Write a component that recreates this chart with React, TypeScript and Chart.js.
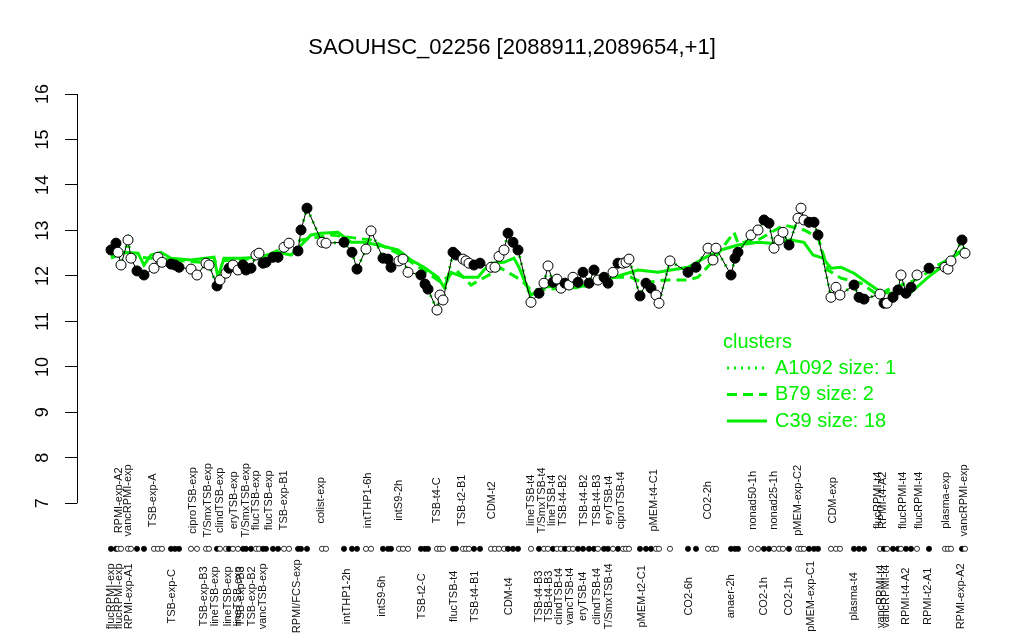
import React, { useEffect, useRef } from 'react';
import { Chart, registerables } from 'chart.js';

Chart.register(...registerables);

const TITLE = 'SAOUHSC_02256 [2088911,2089654,+1]';
const GREEN = '#00ee00';
const FONT = '"Liberation Sans", Arial, Helvetica, sans-serif';

// y axis tick values
const yTicks = [7, 8, 9, 10, 11, 12, 13, 14, 15, 16];

// sample positions along the condition axis
const samplePos = [
  0, 5, 7, 10, 17, 20, 26, 33, 43, 47,
  51, 60, 64, 68, 80, 86, 95, 98, 106, 109,
  115, 118, 122, 127, 132, 135, 140, 145, 148, 152,
  155, 162, 167, 173, 178, 187, 190, 196, 211, 215,
  233, 241, 246, 255, 260, 272, 277, 280, 288, 292,
  297, 310, 314, 317, 326, 329, 332, 342, 345, 352,
  355, 358, 363, 369, 380, 384, 388, 393, 397, 402,
  407, 420, 428, 433, 437, 442, 446, 450, 454, 458,
  462, 467, 472, 478, 483, 487, 493, 497, 502, 507,
  512, 515, 518, 529, 535, 540, 545, 548, 559, 577,
  585, 597, 602, 605, 620, 624, 627, 640, 647, 653,
  658, 663, 668, 672, 678, 687, 690, 693, 698, 703,
  707, 720, 725, 729, 743, 748, 753, 769, 773, 776,
  782, 787, 790, 795, 800, 806, 818, 834, 837, 840,
  851, 854,
];

// expression values (log2)
const sampleValue = [
  12.57, 12.72, 12.52, 12.24, 12.79, 12.39, 12.11, 12.02, 12.17, 12.41,
  12.30, 12.26, 12.24, 12.19, 12.15, 12.02, 12.28, 12.24, 11.78, 11.91,
  12.06, 12.17, 12.24, 12.13, 12.24, 12.13, 12.17, 12.46, 12.50, 12.28,
  12.30, 12.41, 12.41, 12.63, 12.72, 12.55, 13.01, 13.49, 12.74, 12.72,
  12.74, 12.52, 12.15, 12.59, 12.99, 12.39, 12.37, 12.19, 12.33, 12.37,
  12.08, 12.02, 11.82, 11.71, 11.25, 11.58, 11.47, 12.52, 12.46, 12.37,
  12.33, 12.28, 12.24, 12.28, 12.19, 12.19, 12.43, 12.57, 12.94, 12.74,
  12.57, 11.42, 11.62, 11.84, 12.22, 11.86, 11.93, 11.73, 11.84, 11.80,
  11.97, 11.86, 12.08, 11.84, 12.13, 11.91, 11.97, 11.84, 12.08, 12.28,
  12.28, 12.30, 12.37, 11.56, 11.84, 11.73, 11.58, 11.40, 12.33, 12.08,
  12.19, 12.61, 12.35, 12.61, 12.02, 12.39, 12.52, 12.90, 13.01, 13.23,
  13.16, 12.61, 12.79, 12.96, 12.68, 13.27, 13.49, 13.23, 13.18, 13.18,
  12.90, 11.53, 11.75, 11.58, 11.80, 11.53, 11.49, 11.60, 11.40, 11.40,
  11.53, 11.69, 12.02, 11.62, 11.75, 12.02, 12.17, 12.19, 12.15, 12.33,
  12.79, 12.50,
];

// 1 = filled marker, 0 = open marker
const sampleFilled = [
  1, 1, 0, 0, 0, 0, 1, 1, 0, 0,
  0, 1, 1, 1, 0, 0, 0, 0, 1, 0,
  0, 1, 0, 0, 1, 1, 1, 0, 0, 1,
  1, 1, 1, 0, 0, 1, 1, 1, 0, 0,
  1, 1, 1, 0, 0, 1, 1, 1, 0, 0,
  0, 1, 1, 1, 0, 0, 0, 1, 1, 0,
  0, 0, 1, 1, 0, 0, 0, 0, 1, 1,
  1, 0, 1, 0, 0, 1, 0, 0, 1, 0,
  0, 1, 1, 1, 1, 0, 1, 1, 0, 1,
  0, 0, 0, 1, 1, 1, 0, 0, 0, 1,
  1, 0, 0, 0, 1, 1, 1, 0, 0, 1,
  1, 0, 0, 0, 1, 0, 0, 0, 1, 1,
  1, 0, 0, 0, 1, 1, 1, 0, 1, 0,
  1, 1, 0, 1, 1, 0, 1, 0, 0, 0,
  1, 0,
];

// cluster C39 mean profile (solid)
const c39Pos = [0, 13, 27, 33, 40, 50, 60, 80, 103, 107, 113, 130, 147, 167, 180, 193, 200, 210, 227, 240, 253, 267, 287, 300, 313, 327, 333, 340, 353, 367, 373, 380, 393, 403, 408, 413, 420, 433, 453, 467, 500, 527, 547, 560, 577, 593, 610, 627, 647, 660, 680, 693, 702, 712, 720, 730, 743, 757, 770, 783, 800, 817, 833, 847, 853];
const c39Value = [12.39, 12.52, 12.50, 12.24, 12.46, 12.52, 12.39, 12.35, 12.41, 11.97, 12.39, 12.39, 12.41, 12.52, 12.46, 12.74, 12.90, 12.94, 12.96, 12.74, 12.74, 12.68, 12.57, 12.35, 12.19, 11.97, 11.75, 12.08, 11.97, 11.97, 12.13, 12.28, 12.30, 12.39, 12.19, 11.91, 11.58, 11.75, 11.80, 11.75, 11.95, 12.13, 12.08, 12.13, 12.19, 12.39, 12.57, 12.68, 12.74, 12.72, 12.79, 12.74, 12.46, 12.39, 12.17, 12.19, 12.06, 11.84, 11.64, 11.62, 11.64, 11.97, 12.24, 12.50, 12.61];

// cluster B79 mean profile (dashed)
const b79Pos = [0, 40, 90, 150, 190, 220, 260, 290, 330, 345, 360, 390, 410, 420, 470, 503, 520, 533, 553, 577, 587, 600, 623, 627, 647, 673, 693, 707, 717, 730, 750, 767, 780, 797, 810, 823, 840, 853];
const b79Value = [12.46, 12.39, 12.30, 12.39, 12.79, 12.90, 12.79, 12.46, 11.86, 12.13, 11.80, 12.17, 11.91, 11.69, 11.75, 11.97, 11.97, 11.84, 11.91, 11.91, 11.97, 12.28, 12.96, 12.72, 12.79, 13.12, 13.01, 12.85, 12.13, 11.95, 11.84, 11.58, 11.73, 11.84, 11.97, 12.19, 12.39, 12.57];

const topLabels = ['RPMI-exp-A2', 'vancRPMI-exp', 'TSB-exp-A', 'ciproTSB-exp', 'T/SmxTSB-exp', 'clindTSB-exp', 'eryTSB-exp', 'T/SmxTSB-exp', 'flucTSB-exp', 'flucTSB-exp', 'TSB-exp-B1', 'colist-exp', 'intTHP1-6h', 'intS9-2h', 'TSB-t4-C', 'TSB-t2-B1', 'CDM-t2', 'lineTSB-t4', 'T/SmxTSB-t4', 'lineTSB-t4', 'TSB-t4-B2', 'TSB-t4-B2', 'TSB-t4-B3', 'eryTSB-t4', 'ciproTSB-t4', 'pMEM-t4-C1', 'CO2-2h', 'nonad50-1h', 'nonad25-1h', 'pMEM-exp-C2', 'CDM-exp', 'flucRPMI-t4', 'RPMI-t4-A2', 'flucRPMI-t4', 'flucRPMI-t4', 'plasma-exp', 'vancRPMI-exp'];
const topLabelPos = [8, 17, 42, 82, 97, 109, 123, 135, 145, 158, 173, 210, 257, 288, 326, 351, 381, 420, 431, 441, 452, 473, 486, 498, 510, 543, 597, 642, 663, 687, 722, 767, 772, 792, 808, 835, 853];

const bottomLabels = ['flucRPMI-exp', 'flucRPMI-exp', 'RPMI-exp-A1', 'TSB-exp-C', 'TSB-exp-B3', 'lineTSB-exp', 'lineTSB-exp', 'lineTSB-exp', 'TSB-exp-B3', 'TSB-exp-B2', 'vancTSB-exp', 'RPMI/FCS-exp', 'intTHP1-2h', 'intS9-6h', 'TSB-t2-C', 'flucTSB-t4', 'TSB-t4-B1', 'CDM-t4', 'TSB-t4-B3', 'TSB-t4-B3', 'clindTSB-t4', 'vancTSB-t4', 'eryTSB-t4', 'clindTSB-t4', 'T/SmxTSB-t4', 'pMEM-t2-C1', 'CO2-6h', 'anaer-2h', 'CO2-1h', 'CO2-1h', 'pMEM-exp-C1', 'plasma-t4', 'vancRPMI-t4', 'vancRPMI-t4', 'RPMI-t4-A2', 'RPMI-t2-A1', 'RPMI-exp-A2'];
const bottomLabelPos = [0, 8, 18, 61, 93, 104, 117, 127, 130, 141, 152, 186, 236, 271, 311, 343, 364, 398, 428, 438, 448, 459, 472, 486, 498, 531, 578, 620, 653, 678, 700, 743, 770, 775, 795, 817, 850];

const legendTitle = 'clusters';
const legendNames = ['A1092 size: 1', 'B79 size: 2', 'C39 size: 18'];
const legendDashes = [[2, 5], [10, 6], []];

const GROUP_ROW_Y = 6;

const overlayPlugin = {
  id: 'rOverlay',
  afterDraw(chart: any) {
    const ctx = chart.ctx;
    const xs = chart.scales.x;
    const ys = chart.scales.y;
    const area = chart.chartArea;
    const yMin = yTicks[0];
    const yMax = yTicks[yTicks.length - 1];
    ctx.save();

    // title centred on the page
    ctx.fillStyle = '#000';
    ctx.font = '22px ' + FONT;
    ctx.textAlign = 'center';
    ctx.textBaseline = 'middle';
    ctx.fillText(TITLE, chart.width / 2, 48);

    // y axis line spanning tick range
    ctx.strokeStyle = '#000';
    ctx.lineWidth = 1;
    ctx.setLineDash([]);
    const xl = Math.round(area.left) + 0.5;
    ctx.beginPath();
    ctx.moveTo(xl, ys.getPixelForValue(yMin));
    ctx.lineTo(xl, ys.getPixelForValue(yMax));
    ctx.stroke();

    // y tick labels (rotated)
    ctx.font = '18px ' + FONT;
    for (const v of yTicks) {
      const py = ys.getPixelForValue(v);
      ctx.save();
      ctx.translate(area.left - 34, py);
      ctx.rotate(-Math.PI / 2);
      ctx.fillText(String(v), 0, 0);
      ctx.restore();
    }

    // condition labels
    const baseY = ys.getPixelForValue(yMin);
    ctx.font = '11px ' + FONT;
    ctx.fillStyle = '#111';
    const drawRow = (labels: string[], pos: number[], cy: number) => {
      labels.forEach((lab, i) => {
        const px = xs.getPixelForValue(pos[i]);
        ctx.save();
        ctx.translate(px, cy);
        ctx.rotate(-Math.PI / 2);
        ctx.fillText(lab, 0, 0);
        ctx.restore();
      });
    };
    drawRow(topLabels, topLabelPos, baseY - 3);
    drawRow(bottomLabels, bottomLabelPos, baseY + 93);

    // legend
    const lx = xs.getPixelForValue(612);
    ctx.fillStyle = GREEN;
    ctx.strokeStyle = GREEN;
    ctx.font = '20px ' + FONT;
    ctx.textAlign = 'left';
    ctx.fillText(legendTitle, lx, 342);
    legendNames.forEach((name, i) => {
      const yy = 368 + i * 26.5;
      ctx.lineWidth = 3;
      ctx.setLineDash(legendDashes[i]);
      ctx.beginPath();
      ctx.moveTo(lx + 4, yy);
      ctx.lineTo(lx + 44, yy);
      ctx.stroke();
      ctx.setLineDash([]);
      ctx.fillText(name, lx + 52, yy);
    });
    ctx.restore();
  },
};

export default function App() {
  const ref = useRef<HTMLCanvasElement | null>(null);
  useEffect(() => {
    if (!ref.current) return;
    const pts = samplePos.map((x, i) => ({ x, y: sampleValue[i] }));
    const chart = new Chart(ref.current, {
      type: 'scatter',
      data: {
        datasets: [
          {
            label: 'expression',
            data: pts,
            showLine: true,
            borderColor: '#000',
            borderWidth: 1,
            pointRadius: 5,
            pointBackgroundColor: sampleFilled.map((f) => (f ? '#000' : '#fff')),
            pointBorderColor: '#000',
            pointBorderWidth: 1,
          },
          {
            label: 'groups',
            data: samplePos.map((x) => ({ x, y: GROUP_ROW_Y })),
            showLine: false,
            pointRadius: 2.6,
            pointBackgroundColor: sampleFilled.map((f) => (f ? '#000' : '#fff')),
            pointBorderColor: '#000',
            pointBorderWidth: 0.8,
          },
          {
            label: 'C39 size: 18',
            data: c39Pos.map((x, i) => ({ x, y: c39Value[i] })),
            showLine: true,
            borderColor: GREEN,
            borderWidth: 3,
            pointRadius: 0,
          },
          {
            label: 'B79 size: 2',
            data: b79Pos.map((x, i) => ({ x, y: b79Value[i] })),
            showLine: true,
            borderColor: GREEN,
            borderWidth: 3,
            borderDash: [10, 6],
            pointRadius: 0,
          },
          {
            label: 'A1092 size: 1',
            data: pts,
            showLine: true,
            borderColor: GREEN,
            borderWidth: 3,
            borderDash: [2, 5],
            pointRadius: 0,
          },
        ],
      },
      options: {
        animation: false,
        responsive: false,
        maintainAspectRatio: false,
        events: [],
        layout: { autoPadding: false, padding: { left: 65, right: 25, top: 94, bottom: 73 } },
        plugins: {
          legend: { display: false },
          tooltip: { enabled: false },
          title: { display: false },
        },
        scales: {
          x: { type: 'linear', display: false, min: -34, max: 888 },
          y: {
            type: 'linear',
            min: 5.6,
            max: 16,
            bounds: 'data',
            ticks: { display: false, stepSize: 1 },
            afterBuildTicks: (axis: any) => {
              axis.ticks = yTicks.map((v) => ({ value: v }));
            },
            border: { display: false },
            grid: {
              display: true,
              drawOnChartArea: false,
              drawTicks: true,
              tickLength: 12,
              color: '#000',
              lineWidth: 1,
            },
          },
        },
      },
      plugins: [overlayPlugin],
    } as any);
    return () => chart.destroy();
  }, []);
  return (
    <div style={{ position: 'fixed', left: 0, top: 0, width: 1024, height: 640, background: '#fff' }}>
      <canvas ref={ref} width={1024} height={640} />
    </div>
  );
}
